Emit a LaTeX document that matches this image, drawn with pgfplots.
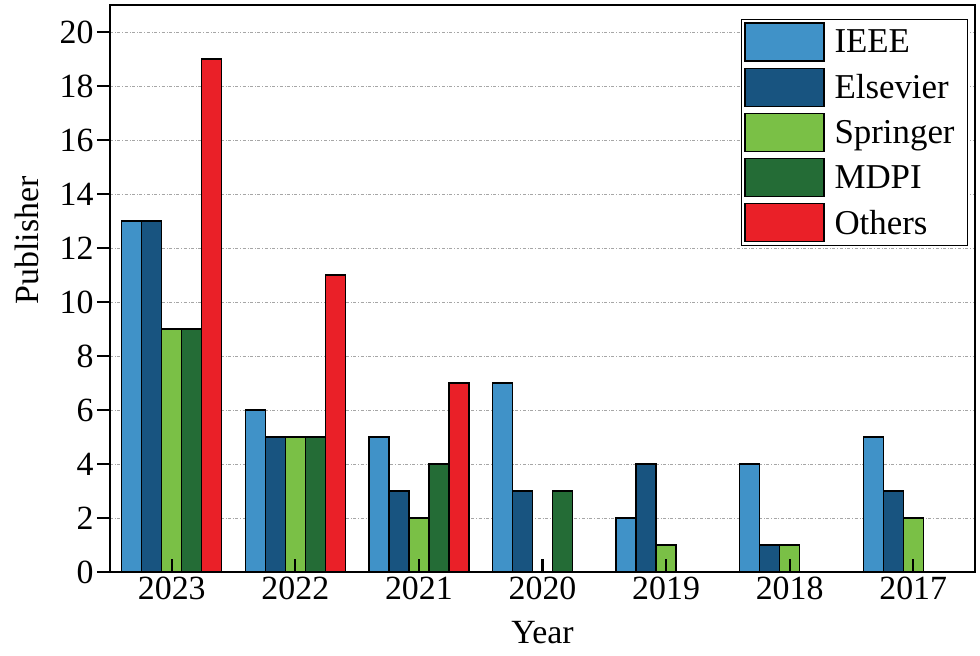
\documentclass[border=0pt]{standalone}
\usepackage{pgfplots}
\pgfplotsset{compat=1.18}
\usepackage{fontspec}
\setmainfont{Liberation Serif}
\definecolor{cIEEE}{RGB}{64,146,200}
\definecolor{cEls}{RGB}{24,84,128}
\definecolor{cSpr}{RGB}{122,192,70}
\definecolor{cMDPI}{RGB}{36,108,54}
\definecolor{cOth}{RGB}{234,32,40}
\pgfplotsset{
  frame/.style={
    scale only axis,
    width=865bp, height=567bp,
    xmin=-0.5, xmax=6.5,
    ymin=0, ymax=21,
    axis line style={line width=1.8bp},
  }
}
\begin{document}
\begin{tikzpicture}
\begin{axis}[
  frame,
  name=ax,
  ybar=0pt, bar width=20bp,
  xtick={0,1,2,3,4,5,6},
  xticklabels={2023,2022,2021,2020,2019,2018,2017},
  ytick={0,2,4,6,8,10,12,14,16,18,20},
  xtick pos=bottom, ytick pos=left,
  tick align=inside,
  major tick length=13bp,
  tick style={draw=none},
  yticklabel style={xshift=-13bp},
  xticklabel style={yshift=-1bp},
  /pgf/number format/assume math mode=true,
  tick label style={font=\fontsize{34}{40}\selectfont},
  label style={font=\fontsize{34}{40}\selectfont},
  xlabel={Year},
  ylabel={Publisher},
  xlabel style={at={(axis description cs:0.5,0)}, anchor=north, yshift=-46bp},
  ylabel style={at={(axis description cs:-0.096,0.585)}, anchor=center, rotate=0},
  ymajorgrids,
  grid style={gray!70, dash dot, line width=0.8bp},
  every axis plot/.append style={draw=black, line width=1.2bp},
  legend style={at={(axis description cs:1,1)}, anchor=north east, xshift=-7bp, yshift=-14bp,
    draw=black, line width=0.8bp, font=\fontsize{35}{41}\selectfont, row sep=6bp,
    inner xsep=3bp, inner ysep=3bp},
  legend cell align=left,
  legend image code/.code={\draw[#1, draw=black, line width=1.2bp] (0bp,-19bp) rectangle (79bp,19bp);},
  legend style={nodes={inner xsep=10bp}},
]
\addplot[fill=cIEEE] coordinates {(0,13) (1,6) (2,5) (3,7) (4,2) (5,4) (6,5)};
\addplot[fill=cEls] coordinates {(0,13) (1,5) (2,3) (3,3) (4,4) (5,1) (6,3)};
\addplot[fill=cSpr] coordinates {(0,9) (1,5) (2,2) (3,0) (4,1) (5,1) (6,2)};
\addplot[fill=cMDPI] coordinates {(0,9) (1,5) (2,4) (3,3) (4,0) (5,0) (6,0)};
\addplot[fill=cOth] coordinates {(0,19) (1,11) (2,7) (3,0) (4,0) (5,0) (6,0)};
\legend{IEEE,Elsevier,Springer,MDPI,Others}
\end{axis}
% x ticks, inside, on top of the bars
\begin{axis}[
  frame,
  at={(ax.south west)}, anchor=south west,
  xtick={0,1,2,3,4,5,6}, xticklabels={},
  ytick=\empty,
  xtick pos=bottom,
  tick align=inside,
  major tick length=13bp,
  tick style={black, line width=2.2bp},
]
\end{axis}
% y ticks, outside
\begin{axis}[
  frame,
  at={(ax.south west)}, anchor=south west,
  clip=false,
  axis x line=none, axis y line*=left,
  y axis line style={-, line width=1.8bp},
  xtick=\empty,
  ytick={0,2,4,6,8,10,12,14,16,18,20}, yticklabels={},
  tick align=outside,
  major tick length=13bp,
  tick style={black, line width=2.2bp},
  unbounded coords=jump,
]
\addplot[black, line width=2.2bp, forget plot] coordinates {
  (-0.605,0) (-0.5,0) (-0.5,nan)
  (-0.605,2) (-0.5,2) (-0.5,nan)
  (-0.605,4) (-0.5,4) (-0.5,nan)
  (-0.605,6) (-0.5,6) (-0.5,nan)
  (-0.605,8) (-0.5,8) (-0.5,nan)
  (-0.605,10) (-0.5,10) (-0.5,nan)
  (-0.605,12) (-0.5,12) (-0.5,nan)
  (-0.605,14) (-0.5,14) (-0.5,nan)
  (-0.605,16) (-0.5,16) (-0.5,nan)
  (-0.605,18) (-0.5,18) (-0.5,nan)
  (-0.605,20) (-0.5,20)
};
\end{axis}
\pgfresetboundingbox
\path ([shift={(-110bp,-84bp)}]ax.south west) rectangle ++(980bp,656bp);
\end{tikzpicture}
\end{document}
